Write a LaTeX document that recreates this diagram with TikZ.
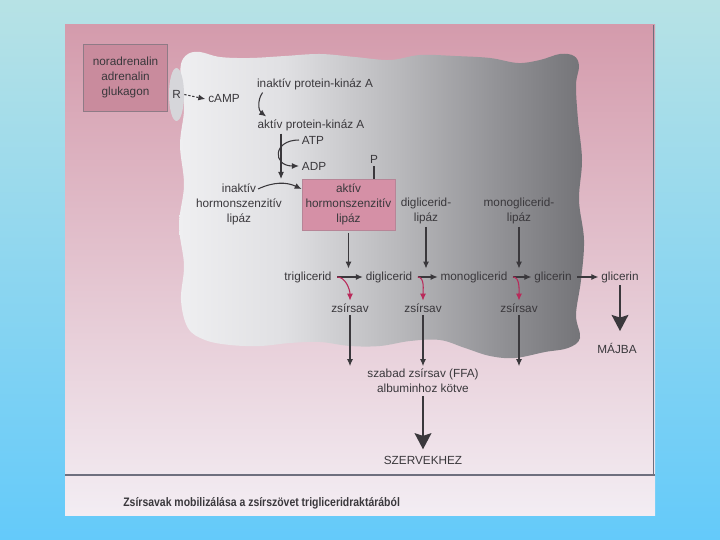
\documentclass[tikz,border=0pt]{standalone}
\usepackage{fontspec}
\setmainfont{Liberation Sans}
\newfontfamily\capfont[FakeStretch=0.85]{Liberation Sans}
\usetikzlibrary{arrows.meta,shapes.geometric}
\definecolor{ink}{HTML}{3A383C}
\definecolor{slidetop}{HTML}{B7E2E5}
\definecolor{slidebottom}{HTML}{64CAFA}
\definecolor{pagetop}{HTML}{D49BAC}
\definecolor{pagemid}{HTML}{E6C3CF}
\definecolor{pagebottom}{HTML}{F3EDF3}
\definecolor{rulegray}{HTML}{6E6F7E}
\definecolor{cellA}{HTML}{EFEFF1}
\definecolor{cellB}{HTML}{E0E0E3}
\definecolor{cellC}{HTML}{B9B9BC}
\definecolor{cellD}{HTML}{939397}
\definecolor{cellE}{HTML}{737377}
\definecolor{hormfill}{HTML}{C98B9D}
\definecolor{hormborder}{HTML}{8F7B86}
\definecolor{hslfill}{HTML}{D590A6}
\definecolor{hslborder}{HTML}{B78597}
\definecolor{receptorfill}{HTML}{D6D6DA}
\definecolor{acidred}{HTML}{B92A5A}
\pgfdeclarehorizontalshading{cellshade}{100bp}{color(0bp)=(cellA); color(25bp)=(cellA);
  color(38bp)=(cellB); color(52bp)=(cellC); color(64bp)=(cellD); color(75bp)=(cellE); color(100bp)=(cellE)}
\tikzset{
  txt/.style={font=\fontsize{6.7}{8.5}\selectfont,text=ink,inner sep=1.5pt,align=center},
  flow/.style={-{Latex[length=1.4mm,width=1.2mm]},draw=ink,line width=0.6pt},
  bigflow/.style={-{Stealth[length=3.2mm,width=3.3mm,inset=0.5mm]},draw=ink,line width=1.6pt},
  acidflow/.style={-{Latex[length=1.4mm,width=1.2mm]},draw=acidred,line width=0.6pt},
  hormbox/.style={txt,draw=hormborder,fill=hormfill,line width=0.4pt,minimum width=16.8mm,minimum height=13.4mm},
  hslbox/.style={txt,draw=hslborder,fill=hslfill,line width=0.4pt,minimum width=18.6mm,minimum height=10.2mm},
  receptor/.style={txt,ellipse,fill=receptorfill,inner sep=0pt,minimum width=3mm,minimum height=10.6mm}
}

\begin{document}
\begin{tikzpicture}[x=0.02cm,y=0.02cm]
  \useasboundingbox (0,0) rectangle (720,-540);
  \shade[top color=slidetop,bottom color=slidebottom] (0,0) rectangle (720,-540);
  \shade[top color=pagetop,middle color=pagemid,bottom color=pagebottom] (65,-25) rectangle (655,-515);
  \draw[rulegray,line width=0.4pt] (653,-25) -- (653,-475);
  \draw[rulegray,line width=0.6pt] (65,-475) -- (655,-475);

  % the fat cell
  \shade[shading=cellshade] plot[smooth cycle,tension=0.6] coordinates {
    (181,-64) (188,-54) (200,-52) (220,-57) (250,-58) (285,-56) (320,-54) (355,-57)
    (390,-60) (420,-55) (455,-56) (490,-58) (518,-63) (540,-60) (560,-54) (574,-56)
    (579,-66) (576,-85) (578,-120) (582,-160) (579,-200) (584,-240) (581,-280)
    (576,-315) (580,-338) (568,-348) (545,-352) (515,-358) (490,-356) (465,-348)
    (440,-340) (410,-341) (380,-346) (350,-346) (320,-342) (290,-343) (260,-346)
    (230,-345) (205,-340) (188,-328) (181,-300) (184,-265) (179,-225) (184,-185)
    (180,-145) (184,-110) (181,-85)};

  \node[hormbox] (hormones) at (125.5,-77.5) {noradrenalin\\adrenalin\\glukagon};
  \node[receptor] (receptor) at (176.5,-94.5) {R};
  \node[txt] (camp) at (224,-99) {cAMP};
  \node[txt] (pkainactive) at (315,-84) {inaktív protein-kináz A};
  \node[txt] (pkaactive) at (311,-125) {aktív protein-kináz A};
  \node[txt] (atp) at (313,-140) {ATP};
  \node[txt] (adp) at (314,-166) {ADP};
  \node[txt] (phos) at (374,-159) {P};
  \node[hslbox] (hslactive) at (348.5,-204.5) {aktív\\hormonszenzitív\\lipáz};
  \node[txt] (hslinactive) at (239,-204) {inaktív\\hormonszenzitív\\lipáz};
  \node[txt] (dglipase) at (426,-211) {diglicerid-\\lipáz};
  \node[txt] (mglipase) at (519,-211) {monoglicerid-\\lipáz};
  \node[txt] (tg) at (308,-277) {triglicerid};
  \node[txt] (dg) at (389,-277) {diglicerid};
  \node[txt] (mg) at (474,-277) {monoglicerid};
  \node[txt] (glin) at (553,-277) {glicerin};
  \node[txt] (glout) at (620,-277) {glicerin};
  \node[txt] (ffaone) at (350,-308) {zsírsav};
  \node[txt] (ffatwo) at (423,-308) {zsírsav};
  \node[txt] (ffathree) at (519,-308) {zsírsav};
  \node[txt] (ffafree) at (423,-381) {szabad zsírsav (FFA)\\albuminhoz kötve};
  \node[txt] (organs) at (423,-460) {SZERVEKHEZ};
  \node[txt] (liver) at (617,-348) {MÁJBA};
  \node[anchor=west,text=ink,inner sep=0pt,font=\capfont\bfseries\fontsize{7}{8}\selectfont]
    (caption) at (123,-503) {Zsírsavak mobilizálása a zsírszövet trigliceridraktárából};

  \coordinate (pkahit) at (281,-179);
  \coordinate (hslstart) at (258,-189);

  \draw[flow,dash pattern=on 1.3pt off 1pt] (receptor.east) -- (camp.west);
  \draw[flow] ([xshift=1.7mm]pkainactive.south west) to[bend right=45]
    ([xshift=2.3mm]pkaactive.north west);
  \draw[flow] (pkaactive.south -| pkahit) -- (pkahit);
  \draw[flow] (atp.west) to[out=180,in=180,looseness=2.6] (adp.west);
  \draw[flow] (hslstart) to[bend left=25] (hslactive.west |- hslstart);
  \draw[draw=ink,line width=0.6pt] (phos.south) -- (phos.south |- hslactive.north);

  \draw[flow,shorten <=1.5pt] (hslactive.south) -- (hslactive.south |- tg.north);
  \draw[flow] (dglipase.south) -- (dglipase.south |- dg.north);
  \draw[flow] (mglipase.south) -- (mglipase.south |- mg.north);

  \draw[flow,shorten <=1.5pt] (tg.east) -- (dg.west);
  \draw[flow,shorten <=1.5pt] (dg.east) -- (mg.west);
  \draw[flow,shorten <=1.5pt] (mg.east) -- (glin.west);
  \draw[flow,shorten <=1.5pt] (glin.east) -- (glout.west);

  \draw[acidflow,shorten <=1.5pt] (tg.east) to[out=0,in=90] (ffaone.north);
  \draw[acidflow,shorten <=1.5pt] (dg.east) to[out=0,in=90] (ffatwo.north);
  \draw[acidflow,shorten <=1.5pt] (mg.east) to[out=0,in=90] (ffathree.north);

  \draw[flow] (ffaone.south) -- (ffaone.south |- ffafree.north);
  \draw[flow] (ffatwo) -- (ffafree);
  \draw[flow] (ffathree.south) -- (ffathree.south |- ffafree.north);

  \draw[bigflow,shorten >=2pt] (ffafree) -- (organs);
  \draw[bigflow,shorten >=5pt] (glout.south) -- (glout.south |- liver.north);
\end{tikzpicture}
\end{document}
